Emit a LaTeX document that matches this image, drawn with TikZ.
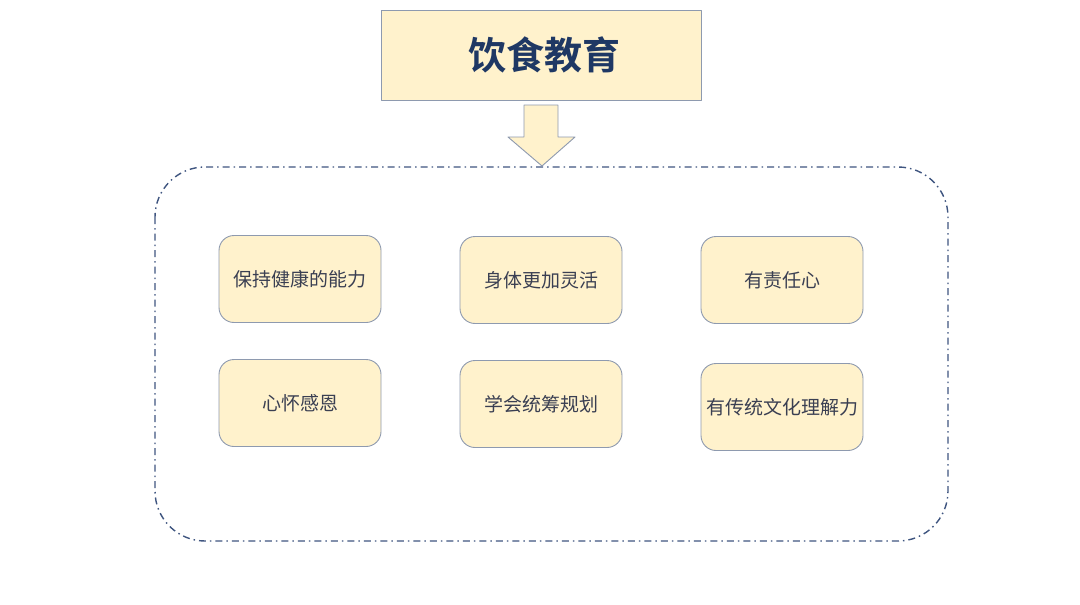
\documentclass[tikz,border=0pt]{standalone}
\usepackage{fontspec}
\setmainfont{Noto Sans CJK SC}
\newfontfamily\cjkbold{Noto Sans CJK SC Bold}
\usetikzlibrary{positioning}
\definecolor{boxfill}{HTML}{FFF2CC}
\definecolor{boxline}{HTML}{8E9AAF}
\definecolor{navy}{HTML}{1F3864}
\definecolor{framecol}{HTML}{3F5580}
\definecolor{txtcol}{HTML}{3A3F52}

\begin{document}
\begin{tikzpicture}[x=1pt,y=-1pt,line join=round,
    item/.style={draw=boxline,fill=boxfill,rounded corners=15pt,line width=0.9pt,
      minimum width=162pt,minimum height=87pt,inner sep=0pt,
      text=txtcol,font=\fontsize{19pt}{22pt}\selectfont},
    titlebox/.style={draw=boxline,fill=boxfill,line width=1pt,
      minimum width=320pt,minimum height=90pt,inner sep=0pt,
      text=navy,font=\cjkbold\fontsize{38pt}{44pt}\selectfont}]
      \useasboundingbox (0,0) rectangle (1080,605);
      \fill[white] (0,0) rectangle (1080,605);
      % frame
      \draw[color=framecol,line width=1.4pt,dash pattern=on 7pt off 4pt on 1.5pt off 4pt,
        rounded corners=50pt] (155,167) rectangle (948,541);
      % title and arrow
      \node[titlebox] (title) at (541,55) {\hspace*{6pt}饮食教育};
      \coordinate (tip) at (542,166);
      \draw[draw=boxline,fill=boxfill,line width=0.9pt]
        (524,105) -- (558,105) -- (558,137) -- (575,137) -- (tip)
        -- (508,137) -- (524,137) -- cycle;
      % items
      \foreach \name/\x/\y/\txt in {a/300/279/保持健康的能力, b/541/280/身体更加灵活, c/782/280/有责任心,
        d/300/403/心怀感恩, e/541/404/学会统筹规划, f/782/407/有传统文化理解力}
      \node[item] (\name) at (\x,\y) {\txt};
\end{tikzpicture}
\end{document}
